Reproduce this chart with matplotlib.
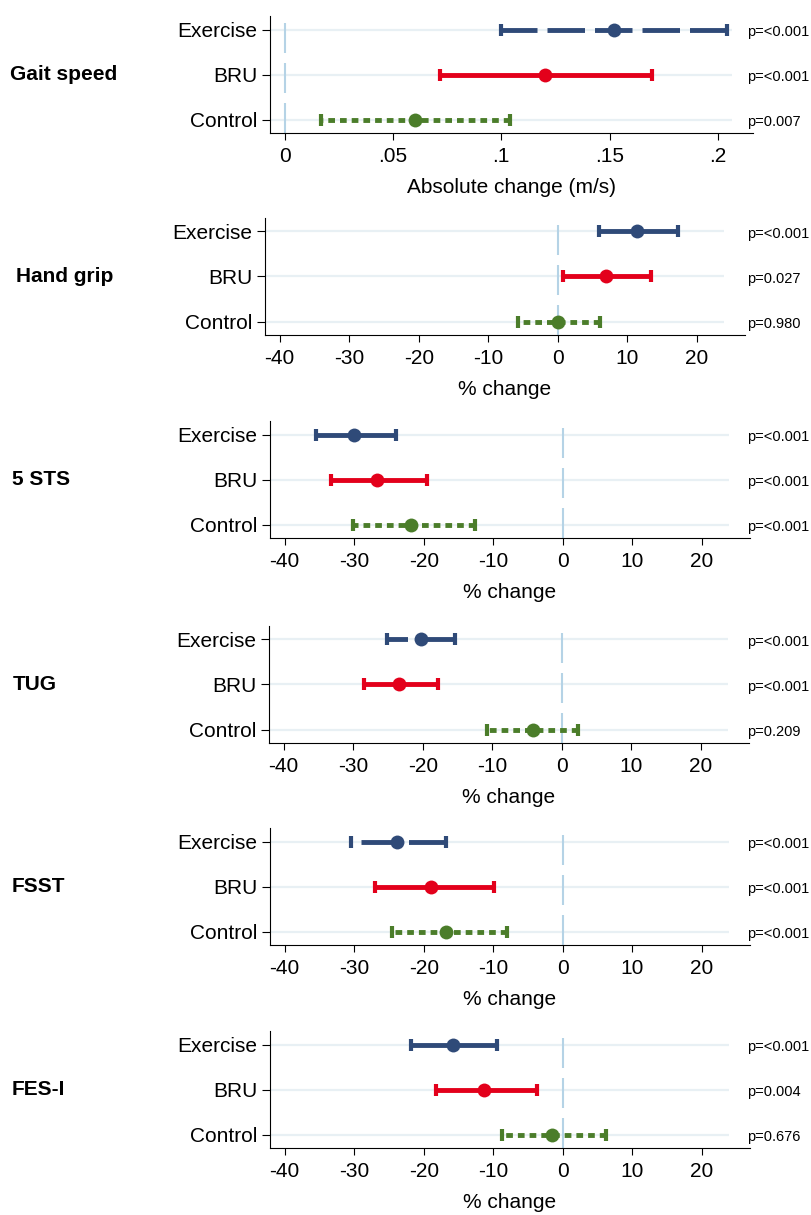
import matplotlib
matplotlib.use('Agg')
import matplotlib.pyplot as plt
import matplotlib.transforms as mtransforms

plt.rcParams['font.family'] = ['Liberation Sans', 'DejaVu Sans']
plt.rcParams['lines.scale_dashes'] = False

#---------data------------------------------
outcomes = ['Gait speed', 'Hand grip', '5 STS', 'TUG', 'FSST', 'FES-I']
groups = ['Exercise', 'BRU', 'Control']
xlabels = ['Absolute change (m/s)', '% change', '% change', '% change', '% change', '% change']

exercise_est = [0.152, 11.4, -30.0, -20.3, -23.8, -15.8]
exercise_lo = [0.0999, 5.97, -35.5, -25.1, -30.5, -21.8]
exercise_hi = [0.204, 17.3, -24.0, -15.3, -16.8, -9.5]

bru_est = [0.1203, 6.9, -26.7, -23.4, -18.9, -11.3]
bru_lo = [0.0719, 0.75, -33.4, -28.4, -27.0, -18.3]
bru_hi = [0.1694, 13.4, -19.6, -17.8, -9.9, -3.7]

control_est = [0.0604, 0.0, -21.8, -4.2, -16.8, -1.6]
control_lo = [0.0168, -5.7, -30.2, -10.7, -24.6, -8.8]
control_hi = [0.1042, 6.1, -12.7, 2.3, -8.0, 6.2]

exercise_p = ['p=<0.001', 'p=<0.001', 'p=<0.001', 'p=<0.001', 'p=<0.001', 'p=<0.001']
bru_p = ['p=<0.001', 'p=0.027', 'p=<0.001', 'p=<0.001', 'p=<0.001', 'p=0.004']
control_p = ['p=0.007', 'p=0.980', 'p=<0.001', 'p=0.209', 'p=<0.001', 'p=0.676']

gait_ticks = [0, 0.05, 0.1, 0.15, 0.2]
gait_ticklabels = ['0', '.05', '.1', '.15', '.2']
pct_ticks = [-40, -30, -20, -10, 0, 10, 20]
pct_ticklabels = ['-40', '-30', '-20', '-10', '0', '10', '20']

#---------layout (pixels)----------
W, H = 812, 1215
lefts = [270, 265, 270, 269, 270, 270]
rights = [753, 745, 750, 749, 750, 750]
bottoms = [133, 335, 538, 743, 945, 1148]
title_x = [10, 16, 12, 13, 12, 12]
row_px = 45

navy = '#2f4a78'
red = '#e3001b'
green = '#4b7d2a'
grid_col = '#e8f0f4'
zero_col = '#b5d3e6'

px = 72.0 / 100  # points per pixel at dpi 100
styles = [(navy, (0, (37.5 * px, 10 * px))),
          (red, '-'),
          (green, (0, (6.7 * px, 5 * px)))]

fig = plt.figure(figsize=(W / 100, H / 100), dpi=100)

for k in range(6):
    h = 2.6 * row_px
    ax = fig.add_axes([lefts[k] / W, 1 - bottoms[k] / H, (rights[k] - lefts[k]) / W, h / H])
    if k == 0:
        xlim = (-0.0067, 0.2162)
        grid_end = 0.2065
        ticks, ticklabels = gait_ticks, gait_ticklabels
    else:
        xlim = (-42.1, 26.9)
        grid_end = 23.9
        ticks, ticklabels = pct_ticks, pct_ticklabels
    ax.set_xlim(xlim)
    ax.set_ylim(2.3, -0.3)

    # gridlines
    ax.hlines([0, 1, 2], xlim[0], grid_end, color=grid_col, lw=1.6, zorder=1)
    # zero reference line
    ax.axvline(0, color=zero_col, lw=1.5, linestyle=(0, (30 * px, 10 * px)), zorder=1)

    est = [exercise_est[k], bru_est[k], control_est[k]]
    lo = [exercise_lo[k], bru_lo[k], control_lo[k]]
    hi = [exercise_hi[k], bru_hi[k], control_hi[k]]
    pv = [exercise_p[k], bru_p[k], control_p[k]]
    for i in range(3):
        col, ls = styles[i]
        ax.plot([hi[i], lo[i]], [i, i], color=col, lw=3.5, linestyle=ls,
                solid_capstyle='butt', dash_capstyle='butt', zorder=3)
        ax.plot([lo[i], hi[i]], [i, i], linestyle='none', marker='|', markersize=8.5,
                markeredgewidth=3.0, color=col, zorder=3)
        ax.plot(est[i], i, marker='o', markersize=10, color=col, markeredgewidth=0, zorder=4)

    trans = mtransforms.blended_transform_factory(fig.transFigure, ax.transData)
    for i in range(3):
        ax.text(747 / W, i + 0.06, pv[i], transform=trans, fontsize=10.5, ha='left', va='center')
    ax.text(title_x[k] / W, 1, outcomes[k], transform=trans, fontsize=15, fontweight='bold',
            ha='left', va='center')

    ax.set_yticks([0, 1, 2])
    ax.set_yticklabels(groups, fontsize=15)
    ax.set_xticks(ticks)
    ax.set_xticklabels(ticklabels, fontsize=15)
    ax.tick_params(axis='y', length=6, width=0.8, pad=3)
    ax.tick_params(axis='x', length=5, width=0.8, pad=5)
    ax.set_xlabel(xlabels[k], fontsize=15, labelpad=9)
    ax.spines['top'].set_visible(False)
    ax.spines['right'].set_visible(False)
    ax.spines['left'].set_linewidth(0.8)
    ax.spines['bottom'].set_linewidth(0.8)
    ax.patch.set_alpha(0)

fig.savefig('out.png', dpi=100)
